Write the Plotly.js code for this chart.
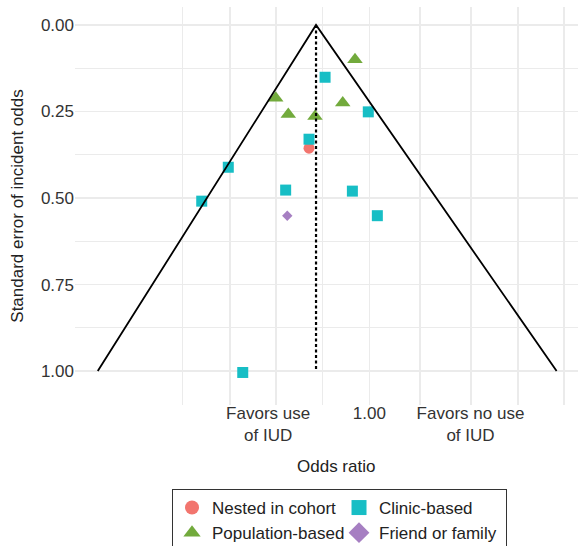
<!DOCTYPE html>
<html>
<head>
<meta charset="utf-8">
<script src="https://cdn.plot.ly/plotly-3.0.1.min.js"></script>
<style>
html, body { margin: 0; padding: 0; overflow: hidden; background: #fff; }
#chart { width: 578px; height: 546px; }
</style>
</head>
<body>
<div id="chart"></div>
<script>
// Log odds ratio (x) and standard error of incident odds (y) by study design
var nestedLogOR = [-0.413];
var nestedSE = [0.356];

var populationLogOR = [-0.098, -0.641, -0.182, -0.555, -0.372];
var populationSE = [0.100, 0.211, 0.225, 0.258, 0.264];

var clinicLogOR = [-0.303, -0.007, -0.413, -0.966, -1.148, -0.573, -0.116, 0.055, -0.867];
var clinicSE = [0.151, 0.251, 0.330, 0.411, 0.509, 0.477, 0.480, 0.551, 1.004];

var friendLogOR = [-0.562];
var friendSE = [0.551];

// Funnel outline and pooled estimate
var funnelLogOR = [-1.860, -0.365, 1.283];
var funnelSE = [1.0, 0.0, 1.0];
var pooledLogOR = [-0.365, -0.365];
var pooledSE = [0.0, 1.0];

// Axis ticks
var xTickVals = [-0.693, 0.0, 0.693];
var xTickText = ['Favors use<br>of IUD', '1.00', 'Favors no use<br>of IUD'];
var xGridVals = [-1.278, -0.954, -0.639, -0.321, 0.0001, 0.347, 0.697, 1.018, 1.334];
var yTickVals = [0, 0.25, 0.5, 0.75, 1.0];
var yTickText = ['0.00', '0.25', '0.50', '0.75', '1.00'];
var yMinorVals = [0.125, 0.375, 0.625, 0.875];

var groupNames = ['Nested in cohort', 'Population-based', 'Clinic-based', 'Friend or family'];

var colNested = '#F2756E', colPop = '#72AA3C', colClinic = '#17BEC5', colFriend = '#A67FC2';

var traces = [
  { x: nestedLogOR, y: nestedSE, type: 'scatter', mode: 'markers', showlegend: false, hoverinfo: 'skip',
    marker: { symbol: 'circle', size: 11, color: colNested } },
  { x: populationLogOR, y: populationSE, type: 'scatter', mode: 'markers', showlegend: false, hoverinfo: 'skip',
    marker: { symbol: 'triangle-up', size: 13.5, color: colPop } },
  { x: clinicLogOR, y: clinicSE, type: 'scatter', mode: 'markers', showlegend: false, hoverinfo: 'skip',
    marker: { symbol: 'square', size: 11, color: colClinic } },
  { x: friendLogOR, y: friendSE, type: 'scatter', mode: 'markers', showlegend: false, hoverinfo: 'skip',
    marker: { symbol: 'diamond', size: 8, color: colFriend } },
  { x: funnelLogOR, y: funnelSE, type: 'scatter', mode: 'lines', showlegend: false, hoverinfo: 'skip',
    line: { color: '#000', width: 1.8 } },
  { x: pooledLogOR, y: pooledSE, type: 'scatter', mode: 'lines', showlegend: false, hoverinfo: 'skip',
    line: { color: '#000', width: 2.2, dash: '3px,2.5px' } },
  // legend keys
  { x: [null], y: [null], type: 'scatter', mode: 'markers', name: groupNames[0], legendgroup: 'c1',
    marker: { symbol: 'circle', size: 14, color: colNested } },
  { x: [null], y: [null], type: 'scatter', mode: 'markers', name: groupNames[1], legendgroup: 'c1',
    marker: { symbol: 'triangle-up', size: 15, color: colPop } },
  { x: [null], y: [null], type: 'scatter', mode: 'markers', name: groupNames[2], legendgroup: 'c2',
    marker: { symbol: 'square', size: 15, color: colClinic } },
  { x: [null], y: [null], type: 'scatter', mode: 'markers', name: groupNames[3], legendgroup: 'c2',
    marker: { symbol: 'diamond', size: 16, color: colFriend } }
];

var fontFam = '"Liberation Sans", Arial, Helvetica, sans-serif';

var layout = {
  width: 578, height: 546,
  margin: { l: 75, r: 0, t: 7, b: 141 },
  paper_bgcolor: '#fff', plot_bgcolor: '#fff',
  font: { family: fontFam, size: 17, color: '#333' },
  showlegend: true,
  xaxis: {
    range: [-2.016, 1.4295],
    tickmode: 'array', tickvals: xTickVals, ticktext: xTickText,
    showgrid: false, zeroline: false, showline: false, ticks: '',
    ticklabelstandoff: -4,
    tickfont: { size: 17, color: '#333' },
    minor: { tickmode: 'array', tickvals: xGridVals, showgrid: true, gridcolor: '#EBEBEB', gridwidth: 1.2, ticks: '' },
    automargin: false
  },
  yaxis: {
    range: [1.098, -0.052],
    tickmode: 'array', tickvals: yTickVals, ticktext: yTickText,
    showgrid: true, gridcolor: '#EBEBEB', gridwidth: 1.2,
    zeroline: false, showline: false, ticks: '',
    tickfont: { size: 17, color: '#333' },
    minor: { tickmode: 'array', tickvals: yMinorVals, showgrid: true, gridcolor: '#EBEBEB', gridwidth: 1.2, ticks: '' },
    title: { text: 'Standard error of incident odds', font: { size: 17, color: '#222' }, standoff: 12 },
    automargin: false
  },
  annotations: [
    { text: 'Odds ratio', xref: 'paper', yref: 'paper', x: 0.519, y: -0.1533,
      xanchor: 'center', yanchor: 'middle', showarrow: false, font: { size: 17, color: '#222' } }
  ],
  legend: {
    orientation: 'h',
    xref: 'container', yref: 'container',
    x: 0.2976, xanchor: 'left',
    y: 0.1044, yanchor: 'top',
    bgcolor: '#fff', bordercolor: '#333', borderwidth: 1,
    font: { size: 17, color: '#222' },
    entrywidth: 122,
    itemclick: false, itemdoubleclick: false
  }
};

Plotly.newPlot('chart', traces, layout, { displayModeBar: false, staticPlot: true });
</script>
</body>
</html>
